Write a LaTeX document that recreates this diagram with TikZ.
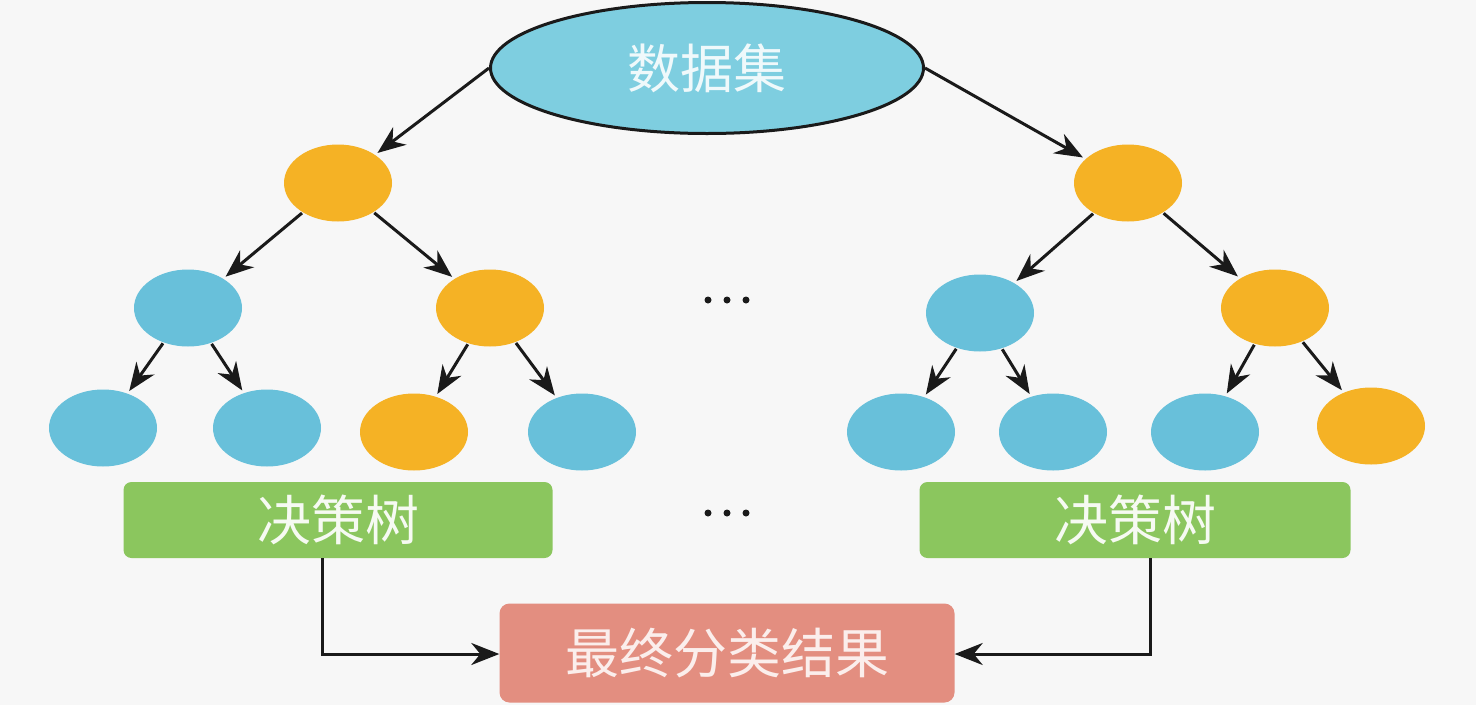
\documentclass[tikz,border=0pt]{standalone}
\usepackage{fontspec}
\newfontfamily\cjk{Noto Sans CJK SC}
\usetikzlibrary{shapes.geometric,arrows.meta}
\definecolor{bg}{HTML}{F7F7F7}
\definecolor{topblue}{HTML}{7ECEE0}
\definecolor{leafblue}{HTML}{68C0DA}
\definecolor{orng}{HTML}{F5B225}
\definecolor{grn}{HTML}{8BC65E}
\definecolor{salmon}{HTML}{E38E80}
\definecolor{ink}{HTML}{1A1A1A}
\tikzset{
  oval/.style={ellipse, inner sep=0pt, minimum width=108pt, minimum height=77pt, draw=none},
  bnode/.style={oval, fill=leafblue},
  onode/.style={oval, fill=orng},
  arr/.style={draw=ink, line width=3pt, arrows={-Stealth[length=28pt,width=22pt,inset=9pt]}},
  bigtxt/.style={font=\cjk\fontsize{54}{62}\selectfont},
  treebox/.style={rectangle, rounded corners=8pt, fill=grn, minimum width=429pt, minimum height=76pt, inner sep=0pt, bigtxt, text=white!92!grn},
  dot/.style={circle, fill=ink, inner sep=0pt, minimum size=7pt}
}
\begin{document}
\begin{tikzpicture}[x=1pt,y=-1pt]
\fill[bg] (0,0) rectangle (1476,705);
\useasboundingbox (0,0) rectangle (1476,705);
% top
\node[ellipse, draw=ink, line width=3pt, fill=topblue, minimum width=433pt, minimum height=131pt, inner sep=0pt, font=\cjk\fontsize{53}{60}\selectfont, text=white!88!topblue] (ds) at (707,68) {数据集};
% left tree
\node[onode] (l0) at (338,183) {};
\node[bnode] (l1) at (188,308) {};
\node[onode] (l2) at (490,308) {};
\node[bnode] (l3) at (103,428) {};
\node[bnode] (l4) at (267,428) {};
\node[onode] (l5) at (414,432) {};
\node[bnode] (l6) at (582,432) {};
% right tree
\node[onode] (r0) at (1128,183) {};
\node[bnode] (r1) at (980,313) {};
\node[onode] (r2) at (1275,308) {};
\node[bnode] (r3) at (901,432) {};
\node[bnode] (r4) at (1053,432) {};
\node[bnode] (r5) at (1205,432) {};
\node[onode] (r6) at (1371,426) {};
% dots
\node[dot] (d1a) at (708,300) {};
\node[dot] (d1b) at (727,300) {};
\node[dot] (d1c) at (746,300) {};
\node[dot] (d2a) at (708,513) {};
\node[dot] (d2b) at (727,513) {};
\node[dot] (d2c) at (746,513) {};
% boxes
\node[treebox] (gl) at (338,520) {决策树};
\node[treebox, minimum width=431pt] (gr) at (1135,520) {决策树};
\node[rectangle, rounded corners=10pt, fill=salmon, minimum width=455pt, minimum height=99pt, inner sep=0pt, bigtxt, text=white!85!salmon] (res) at (727,653) {最终分类结果};
% arrows
\draw[arr, shorten >=3pt] (ds.west) -- (l0);
\draw[arr, shorten >=3pt] (ds.east) -- (r0);
\foreach \a/\b in {l0/l1,l0/l2,l1/l3,l1/l4,l2/l5,l2/l6,r0/r1,r0/r2,r1/r3,r1/r4,r2/r5,r2/r6}
  \draw[arr, shorten <=1pt, shorten >=3pt] (\a) -- (\b);
\draw[arr] ([xshift=-16pt]gl.south) |- ([yshift=-1pt]res.west);
\draw[arr] ([xshift=15pt]gr.south) |- ([yshift=-1pt]res.east);
\end{tikzpicture}
\end{document}
